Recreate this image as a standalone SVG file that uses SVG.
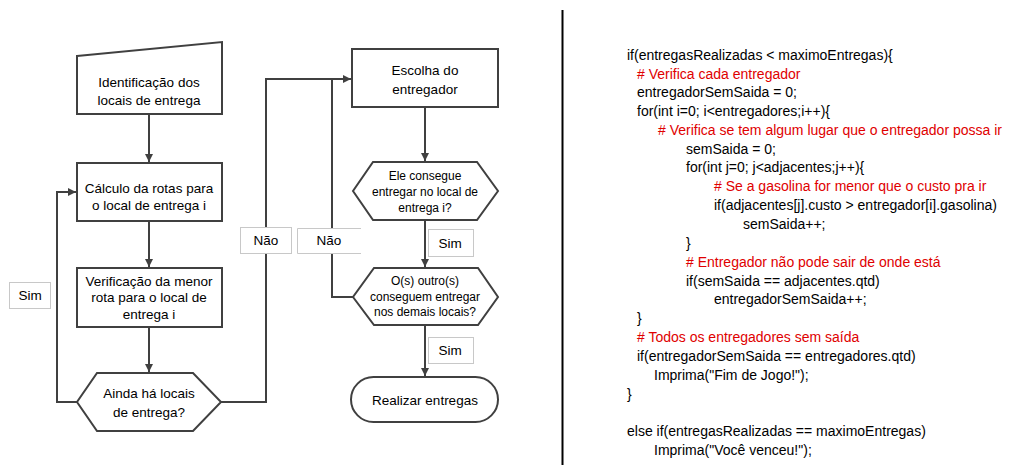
<svg xmlns="http://www.w3.org/2000/svg" width="1009" height="465" viewBox="0 0 1009 465">
<style>
.shape{fill:#fff;stroke:#404040;stroke-width:2}
.conn{fill:none;stroke:#404040;stroke-width:2}
.lbl{fill:#fff;stroke:#c8c8c8;stroke-width:1}
text{font-family:"Liberation Sans",Arial,sans-serif;font-size:13.5px;fill:#000}
.c{text-anchor:middle}
.sm{font-size:12px}
.code text{font-size:14px}
.code .red{fill:#e00000}
</style>
<defs>
<marker id="ah" viewBox="0 0 10 10" refX="10" refY="5" markerWidth="4" markerHeight="4" orient="auto" markerUnits="strokeWidth">
<path d="M0,0 L10,5 L0,10 z" fill="#404040"/>
</marker>
</defs>
<rect width="1009" height="465" fill="#fff"/>

<g id="connectors">
<line class="conn" x1="149" y1="114" x2="149" y2="162" marker-end="url(#ah)"/>
<line class="conn" x1="149" y1="221" x2="149" y2="267" marker-end="url(#ah)"/>
<line class="conn" x1="149" y1="327" x2="149" y2="372" marker-end="url(#ah)"/>
<polyline class="conn" points="77,402 57,402 57,192 76,192" marker-end="url(#ah)"/>
<polyline class="conn" points="221,402 266,402 266,79 351,79" marker-end="url(#ah)"/>
<polyline class="conn" points="353,297 332,297 332,79"/>
<line class="conn" x1="425" y1="107" x2="425" y2="161" marker-end="url(#ah)"/>
<line class="conn" x1="425" y1="220" x2="425" y2="267" marker-end="url(#ah)"/>
<line class="conn" x1="425" y1="325" x2="425" y2="376" marker-end="url(#ah)"/>
</g>

<g id="label-sim-left">
<rect class="lbl" x="9.5" y="282.5" width="41" height="26"/>
<text class="c" x="30" y="300">Sim</text>
</g>
<g id="label-nao-1">
<rect class="lbl" x="240.5" y="227.5" width="51" height="26"/>
<text class="c" x="266" y="245">Não</text>
</g>
<g id="label-nao-2">
<path class="lbl" d="M361,228.5 H297.5 V253.5 H361"/>
<text class="c" x="329" y="245">Não</text>
</g>
<g id="label-sim-1">
<rect class="lbl" x="428.5" y="229.5" width="45" height="27"/>
<text class="c" x="450" y="248">Sim</text>
</g>
<g id="label-sim-2">
<rect class="lbl" x="428.5" y="337.5" width="45" height="26"/>
<text class="c" x="450" y="355">Sim</text>
</g>

<g id="node-identificacao">
<polygon class="shape" points="77,56 222,42 222,114 77,114"/>
<text class="c" x="149" y="87">Identificação dos</text>
<text class="c" x="149" y="105">locais de entrega</text>
</g>
<g id="node-calculo">
<rect class="shape" x="77" y="163" width="145" height="58"/>
<text class="c" x="149" y="193">Cálculo da rotas para</text>
<text class="c" x="149" y="210">o local de entrega i</text>
</g>
<g id="node-verificacao">
<rect class="shape" x="77" y="268" width="145" height="59"/>
<text class="c" x="149" y="286">Verificação da menor</text>
<text class="c" x="149" y="302">rota para o local de</text>
<text class="c" x="149" y="319">entrega i</text>
</g>
<g id="node-ainda">
<polygon class="shape" points="97,373 193,373 221,402 193,431 97,431 77,402"/>
<text class="c" x="149" y="398">Ainda há locais</text>
<text class="c" x="149" y="417">de entrega?</text>
</g>
<g id="node-escolha">
<rect class="shape" x="352" y="49" width="146" height="58"/>
<text class="c" x="425" y="75">Escolha do</text>
<text class="c" x="425" y="94">entregador</text>
</g>
<g id="node-ele">
<polygon class="shape" points="373,162 477,162 498,191 477,220 373,220 353,191"/>
<text class="c sm" x="425" y="180">Ele consegue</text>
<text class="c sm" x="425" y="196">entregar no local de</text>
<text class="c sm" x="425" y="212">entrega i?</text>
</g>
<g id="node-outros">
<polygon class="shape" points="374,268 478,268 498,297 478,325 374,325 353,297"/>
<text class="c sm" x="425" y="285">O(s) outro(s)</text>
<text class="c sm" x="425" y="301">conseguem entregar</text>
<text class="c sm" x="425" y="316">nos demais locais?</text>
</g>
<g id="node-realizar">
<rect class="shape" x="351" y="377" width="147" height="45" rx="22.5"/>
<text class="c" x="425" y="405">Realizar entregas</text>
</g>

<line x1="562.5" y1="10" x2="562.5" y2="465" stroke="#000" stroke-width="2"/>

<g id="code" class="code">
<text x="627" y="60">if(entregasRealizadas &lt; maximoEntregas){</text>
<text class="red" x="637" y="79"># Verifica cada entregador</text>
<text x="637" y="97">entregadorSemSaida = 0;</text>
<text x="637" y="116">for(int i=0; i&lt;entregadores;i++){</text>
<text class="red" x="658" y="135"># Verifica se tem algum lugar que o entregador possa ir</text>
<text x="686" y="154">semSaida = 0;</text>
<text x="686" y="172">for(int j=0; j&lt;adjacentes;j++){</text>
<text class="red" x="714" y="191"># Se a gasolina for menor que o custo pra ir</text>
<text x="714" y="210">if(adjacentes[j].custo &gt; entregador[i].gasolina)</text>
<text x="743" y="229">semSaida++;</text>
<text x="686" y="248">}</text>
<text class="red" x="686" y="267"># Entregador não pode sair de onde está</text>
<text x="686" y="286">if(semSaida == adjacentes.qtd)</text>
<text x="714" y="304">entregadorSemSaida++;</text>
<text x="637" y="323">}</text>
<text class="red" x="637" y="342"># Todos os entregadores sem saída</text>
<text x="637" y="361">if(entregadorSemSaida == entregadores.qtd)</text>
<text x="654" y="380">Imprima("Fim de Jogo!");</text>
<text x="627" y="399">}</text>
<text x="627" y="436">else if(entregasRealizadas == maximoEntregas)</text>
<text x="654" y="455">Imprima("Você venceu!");</text>
</g>
</svg>
